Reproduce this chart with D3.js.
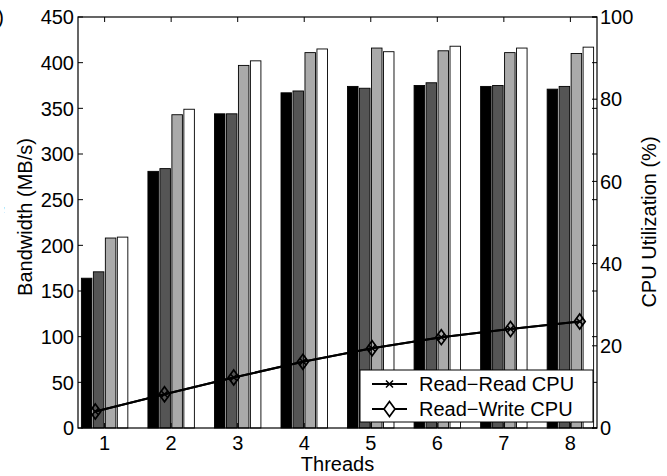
<!DOCTYPE html>
<html>
<head>
<meta charset="utf-8">
<script src="https://cdn.jsdelivr.net/npm/d3@7"></script>
<style>
  html, body { margin: 0; padding: 0; background: #fff; }
  svg { display: block; }
  text { font-family: "Liberation Sans", Arial, Helvetica, sans-serif; fill: #000; }
</style>
</head>
<body>
<svg id="chart" width="667" height="476"></svg>
<script>
// ---- data ----
const threads = [1, 2, 3, 4, 5, 6, 7, 8];
const barSeriesNames = ["Series A", "Series B", "Series C", "Series D"];
const bwSeriesA = [164, 281, 344, 367, 374, 375, 374, 371];
const bwSeriesB = [171, 284, 344, 369, 372, 378, 375, 374];
const bwSeriesC = [208, 343, 397, 411, 416, 413, 411, 410];
const bwSeriesD = [209, 349, 402, 415, 412, 418, 416, 417];
const readReadCPU  = [4.0, 8.2, 12.3, 16.1, 19.4, 22.1, 24.1, 25.9];
const readWriteCPU = [4.0, 8.2, 12.3, 16.1, 19.4, 22.1, 24.1, 25.9];
const leftTicks = [0, 50, 100, 150, 200, 250, 300, 350, 400, 450];
const rightTicks = [0, 20, 40, 60, 80, 100];
const legendLabels = ["Read\u2212Read CPU", "Read\u2212Write CPU"];

const barFills = ["#000000", "#555555", "#aaaaaa", "#ffffff"];
const barSeries = [bwSeriesA, bwSeriesB, bwSeriesC, bwSeriesD];

// ---- layout ----
const L = 78, R = 597, T = 17, B = 428;
const svg = d3.select("#chart");
const FS = 20;

const x = d3.scaleLinear().domain([0.6, 8.4]).range([L, R]);
const xLine = d3.scaleLinear().domain([0.75, 8.25]).range([L, R]);
const y = d3.scaleLinear().domain([0, 450]).range([B, T]);
const y2 = d3.scaleLinear().domain([0, 100]).range([B, T]);

const pitch = 0.18, bw = 0.158;

// bars
barSeries.forEach((vals, si) => {
  svg.append("g").selectAll("rect").data(vals).join("rect")
    .attr("x", (d, i) => x(threads[i] + (si - 1.5) * pitch - bw / 2))
    .attr("width", x(bw) - x(0))
    .attr("y", d => y(d))
    .attr("height", d => y(0) - y(d))
    .attr("fill", barFills[si])
    .attr("stroke", "#000")
    .attr("stroke-width", 0.9);
});

// lines
const lineGen = (vals) => d3.line().x((d, i) => xLine(threads[i])).y(d => y2(d))(vals);
svg.append("path").attr("d", lineGen(readReadCPU)).attr("fill", "none")
  .attr("stroke", "#000").attr("stroke-width", 2);
svg.append("path").attr("d", lineGen(readWriteCPU)).attr("fill", "none")
  .attr("stroke", "#000").attr("stroke-width", 2);

// x markers (Read-Read)
const xMark = (cx, cy, s) => `M${cx - s},${cy - s}L${cx + s},${cy + s}M${cx - s},${cy + s}L${cx + s},${cy - s}`;
svg.append("g").selectAll("path").data(readReadCPU).join("path")
  .attr("d", (d, i) => xMark(xLine(threads[i]), y2(d), 3.5))
  .attr("stroke", "#000").attr("stroke-width", 1.5).attr("fill", "none");
// diamonds (Read-Write)
const diamond = (cx, cy, w, h) => `M${cx},${cy - h}L${cx + w},${cy}L${cx},${cy + h}L${cx - w},${cy}Z`;
svg.append("g").selectAll("path").data(readWriteCPU).join("path")
  .attr("d", (d, i) => diamond(xLine(threads[i]), y2(d), 5.5, 7.5))
  .attr("stroke", "#000").attr("stroke-width", 1.7).attr("fill", "none");

// axes box
svg.append("rect").attr("x", L).attr("y", T).attr("width", R - L).attr("height", B - T)
  .attr("fill", "none").attr("stroke", "#000").attr("stroke-width", 1.2);

const tk = 5;
const ticks = svg.append("g").attr("stroke", "#000").attr("stroke-width", 1);
leftTicks.forEach(v => {
  ticks.append("line").attr("x1", L).attr("x2", L + tk).attr("y1", y(v)).attr("y2", y(v));
  ticks.append("line").attr("x1", R).attr("x2", R - tk).attr("y1", y(v)).attr("y2", y(v));
});
rightTicks.forEach(v => {
  ticks.append("line").attr("x1", R).attr("x2", R - tk).attr("y1", y2(v)).attr("y2", y2(v));
});
threads.forEach(t => {
  ticks.append("line").attr("x1", x(t)).attr("x2", x(t)).attr("y1", B).attr("y2", B - tk);
  ticks.append("line").attr("x1", x(t)).attr("x2", x(t)).attr("y1", T).attr("y2", T + tk);
});

// tick labels
svg.append("g").selectAll("text").data(leftTicks).join("text")
  .attr("x", L - 4).attr("y", d => y(d)).attr("dy", "0.36em")
  .attr("text-anchor", "end").attr("font-size", FS).text(d => d);
svg.append("g").selectAll("text").data(rightTicks).join("text")
  .attr("x", R + 3).attr("y", d => y2(d)).attr("dy", "0.36em")
  .attr("text-anchor", "start").attr("font-size", FS).text(d => d);
svg.append("g").selectAll("text").data(threads).join("text")
  .attr("x", d => x(d)).attr("y", 450)
  .attr("text-anchor", "middle").attr("font-size", FS).text(d => d);

// axis titles
svg.append("text").attr("x", x(4.5)).attr("y", 471).attr("text-anchor", "middle")
  .attr("font-size", FS).text("Threads");
svg.append("text").attr("transform", "translate(32,217) rotate(-90)").attr("text-anchor", "middle")
  .attr("font-size", FS).text("Bandwidth (MB/s)");
svg.append("text").attr("transform", "translate(656,222) rotate(-90)").attr("text-anchor", "middle")
  .attr("font-size", FS).text("CPU Utilization (%)");

// partially hidden remnants at the left edge (as in the reference)
svg.append("defs").append("clipPath").attr("id", "edgeclip")
  .append("rect").attr("x", 4).attr("y", 0).attr("width", 6).attr("height", 476);
svg.append("text").attr("transform", "translate(4,217) rotate(-90)").attr("text-anchor", "middle")
  .attr("font-size", FS).attr("clip-path", "url(#edgeclip)").text("CPU Utilization (%)");
svg.append("text").attr("x", 4).attr("y", 24).attr("text-anchor", "end")
  .attr("font-size", FS).text("(a)");

// legend
const lg = svg.append("g");
lg.append("rect").attr("x", 360).attr("y", 370).attr("width", 233).attr("height", 52)
  .attr("fill", "#fff").attr("stroke", "#000").attr("stroke-width", 1);
const rows = [384, 409];
legendLabels.forEach((lab, i) => {
  const cy = rows[i];
  lg.append("line").attr("x1", 372).attr("x2", 407).attr("y1", cy).attr("y2", cy)
    .attr("stroke", "#000").attr("stroke-width", 2);
  if (i === 0) {
    lg.append("path").attr("d", xMark(389.5, cy, 3.5)).attr("stroke", "#000").attr("stroke-width", 1.5);
  } else {
    lg.append("path").attr("d", diamond(389.5, cy, 5.5, 7.5)).attr("stroke", "#000")
      .attr("stroke-width", 1.7).attr("fill", "#fff");
  }
  lg.append("text").attr("x", 419).attr("y", cy).attr("dy", "0.36em")
    .attr("font-size", FS).text(lab);
});
</script>
</body>
</html>
